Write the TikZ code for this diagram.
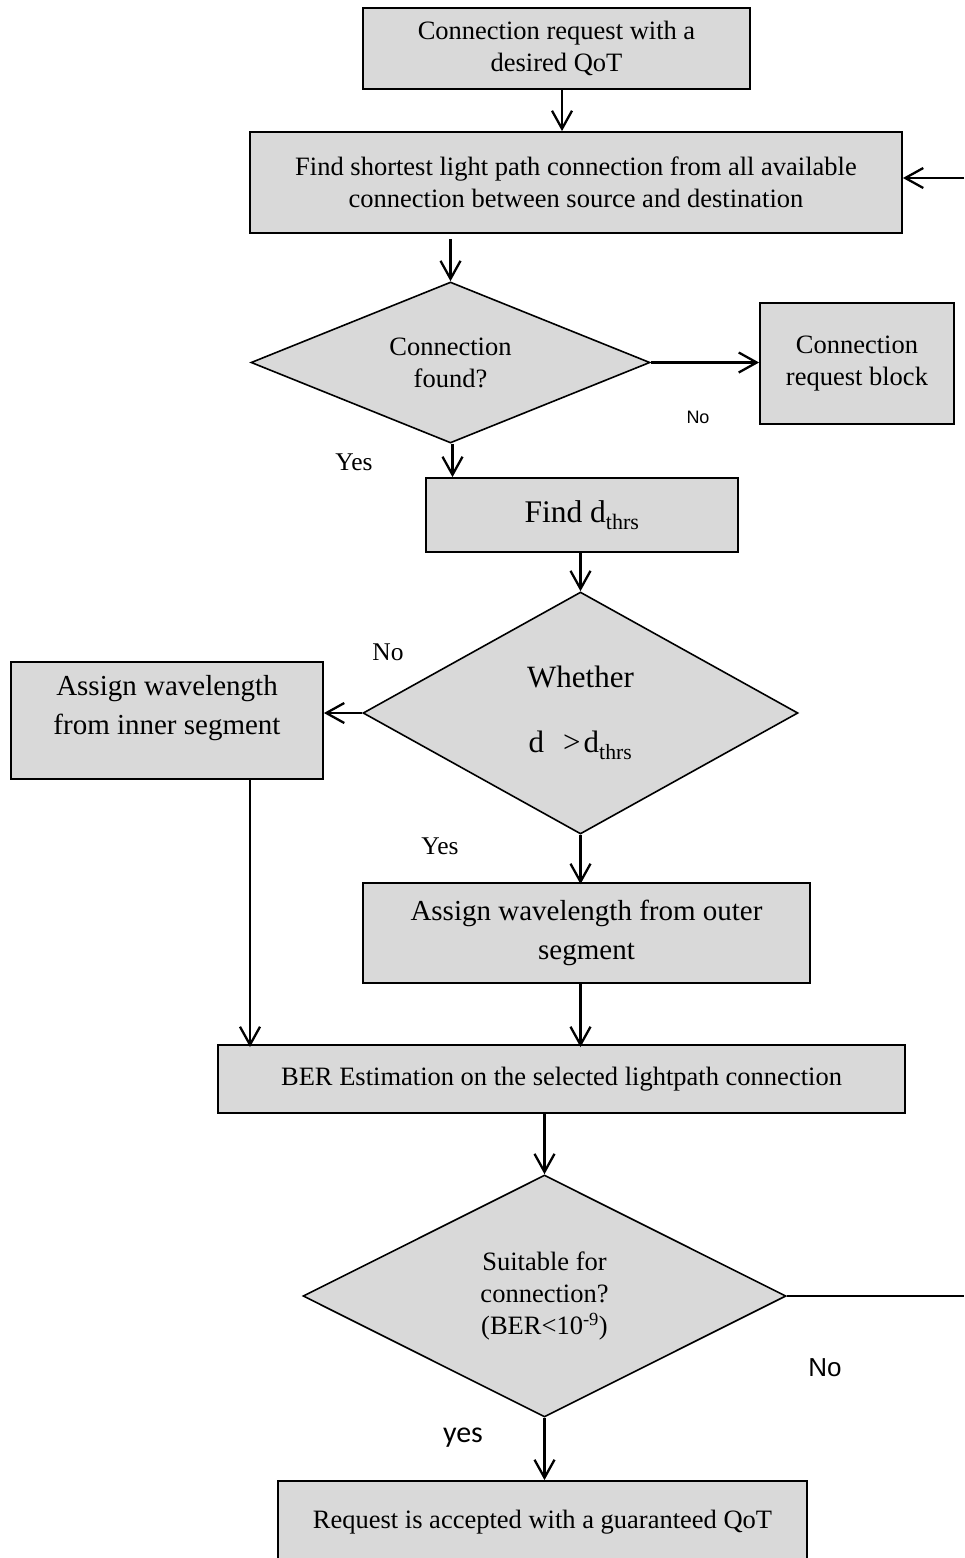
\documentclass[tikz,border=0pt]{standalone}
\usepackage{fontspec}
\setmainfont{Liberation Serif}
\newfontfamily\labelsans{Liberation Sans}
\newfontfamily\yessans{Carlito}
\usetikzlibrary{shapes.geometric,arrows.meta}
\definecolor{boxgray}{RGB}{217,217,217}
\tikzset{
  box/.style={draw=black, fill=boxgray, line width=1.8pt, rectangle, inner sep=0pt, align=center},
  decision/.style={draw=black, fill=boxgray, line width=1.6pt, diamond, inner sep=0pt, align=center},
  arr/.style={line width=2.3pt, -{Straight Barb[length=18pt,width=20pt]}},
  plainline/.style={line width=2.3pt},
  txt/.style={font=\fontsize{26.5}{32}\selectfont},
  bigtxt/.style={font=\fontsize{29}{39}\selectfont},
  lbl/.style={font=\fontsize{25.5}{30}\selectfont, inner sep=0pt},
}
\begin{document}
\begin{tikzpicture}[x=1pt,y=-1pt]
\useasboundingbox (0,0) rectangle (964,1558);
\clip (0,0) rectangle (964,1558);
\fill[white] (0,0) rectangle (964,1558);

% process boxes and decisions
\node[box, txt, minimum width=387pt, minimum height=81pt] (req) at (556.5,48.5)
  {Connection request with a\\desired QoT};
\node[box, txt, minimum width=652pt, minimum height=101pt] (path) at (576,182.5)
  {Find shortest light path connection from all available\\connection between source and destination};
\node[decision, txt, aspect=2.48, minimum width=399pt, minimum height=161pt] (found) at (450.5,362.5)
  {Connection\\found?};
\node[box, txt, minimum width=194pt, minimum height=121pt] (block) at (857,363.5)
  {Connection\\request block};
\node[box, font=\fontsize{31.5}{38}\selectfont, minimum width=312pt, minimum height=74pt] (dthr) at (582,515)
  {\raisebox{-3pt}{Find d\textsubscript{thrs}}};
\node[decision, font=\fontsize{31}{37}\selectfont, aspect=1.8, minimum width=435pt, minimum height=242pt] (cmp) at (580.5,713)
  {Whether\\[28pt]d\hspace{19pt}>\hspace{3pt}d\textsubscript{thrs}};
\node[box, minimum width=312pt, minimum height=117pt] (inner) at (167,720.5) {};
\node[bigtxt, align=center, inner sep=0pt] (innertext) at (167,708.5)
  {Assign wavelength\\from inner segment};
\node[box, bigtxt, minimum width=447pt, minimum height=100pt] (outer) at (586.5,933)
  {Assign wavelength from outer\\segment};
\node[box, txt, minimum width=687pt, minimum height=68pt] (ber) at (561.5,1079)
  {BER Estimation on the selected lightpath connection};
\node[decision, txt, aspect=2, minimum width=483pt, minimum height=242pt] (suit) at (544.5,1296)
  {Suitable for\\connection?\\(BER<10\textsuperscript{-9})};
\node[box, txt, minimum width=529pt, minimum height=82pt] (accept) at (542.5,1522)
  {Request is accepted with a guaranteed QoT};

% branch labels
\node[font=\labelsans\fontsize{18}{20}\selectfont, inner sep=0pt] (no1) at (698,417) {No};
\node[lbl] (yes1) at (354,462) {Yes};
\node[lbl] (no2) at (388,652) {No};
\node[lbl] (yes2) at (440,846) {Yes};
\node[font=\labelsans\fontsize{26}{30}\selectfont, inner sep=0pt] (no3) at (825,1368) {No};
\node[font=\yessans\fontsize{30}{32}\selectfont, inner sep=0pt] (yes3) at (463,1438) {yes};

% feedback loop ends at the right border
\coordinate (loopR) at (964,1296);
\coordinate (loopT) at (964,178);

% connectors
\draw[arr] ([xshift=5.5pt]req.south) -- ([xshift=5.5pt]req.south |- path.north);
\draw[arr] ([yshift=-5pt]path.south -| found.north) -- (found.north);
\draw[arr] (found.east) -- (found.east -| block.west);
\draw[arr] ([xshift=2pt]found.south) -- ([xshift=2pt]found.south |- dthr.north);
\draw[arr] (dthr.south -| cmp.north) -- (cmp.north);
\draw[arr] (cmp.west) -- (cmp.west -| inner.east);
\draw[arr] (cmp.south) -- ([yshift=-2pt]cmp.south |- outer.north);
\draw[arr] ([xshift=83pt]inner.south) -- ([xshift=83pt,yshift=-3pt]inner.south |- ber.north);
\draw[arr] (outer.south -| cmp.south) -- ([yshift=-3pt]cmp.south |- ber.north);
\draw[arr] (suit.north |- ber.south) -- (suit.north);
\draw[arr] (suit.south) -- (suit.south |- accept.north);
\draw[plainline] (suit.east) -- (loopR);
\draw[arr] (loopT) -- (loopT -| path.east);
\end{tikzpicture}
\end{document}
